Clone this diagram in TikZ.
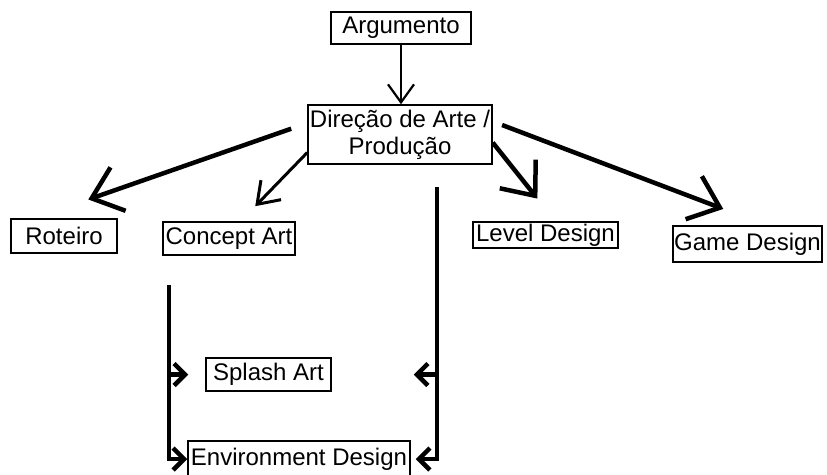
\documentclass[tikz,border=0pt]{standalone}
\usepackage{fontspec}
\setmainfont{Liberation Sans}
\usetikzlibrary{arrows.meta}

\begin{document}
\begin{tikzpicture}[
    x=1pt, y=-1pt,
    every node/.style={font=\fontsize{24}{27}\selectfont},
    box/.style={
      draw=black, line width=1.5pt,
      inner sep=0pt, align=center
    },
    bigarrow/.style={-{Straight Barb[length=28pt,width=46pt]}, line width=4.5pt},
    thinarrow/.style={-{Straight Barb[length=20pt,width=28pt]}, line width=3pt},
    toparrow/.style={-{Straight Barb[length=18pt,width=26pt]}, line width=2.2pt},
    brancharrow/.style={-{Straight Barb[length=11pt,width=22pt]}, line width=4.5pt}
  ]
    \useasboundingbox (0,0) rectangle (827,474);

    \node[box, minimum width=140pt, minimum height=32pt] (arg) at (401,28) {Argumento};
    \node[box, minimum width=184pt, minimum height=59pt] (dir) at (400,134.5)
      {Direção de Arte /\\Produção};

    \node[box, minimum width=106pt, minimum height=34pt] (roteiro) at (64,236) {Roteiro};
    \node[box, minimum width=132pt, minimum height=33pt] (concept) at (229,238.5) {Concept Art};
    \node[box, minimum width=145pt, minimum height=26pt] (level) at (545.5,235) {Level Design};
    \node[box, minimum width=149pt, minimum height=36pt] (game) at (747.5,244) {Game Design};

    \node[box, minimum width=125pt, minimum height=33pt] (splash) at (268.5,374.5) {Splash Art};
    \node[box, minimum width=222pt, minimum height=36pt] (env) at (299,459) {Environment Design};

    % free tops of the two trunks
    \coordinate (ltop) at (169,285);
    \coordinate (rtop) at (437,187);

    \draw[toparrow] (arg) -- (arg.south |- dir.north);
    \draw[bigarrow, shorten <=17pt, shorten >=57pt] (dir.173) -- (roteiro.149);
    \draw[thinarrow, shorten >=21pt] (dir.191) -- (concept.56);
    \draw[bigarrow, shorten >=29pt] (dir.-5) -- (level.54);
    \draw[bigarrow, shorten <=10pt, shorten >=46pt] (dir.8) -- (game.45);

    \draw[brancharrow] (ltop) |- (env.west);
    \draw[brancharrow, shorten >=17pt] (ltop |- splash.west) -- (splash.west);
    \draw[brancharrow, shorten >=5pt] (rtop) |- (env.east);
    \draw[brancharrow, shorten >=82pt] (rtop |- splash.east) -- (splash.east);

  \end{tikzpicture}
\end{document}
